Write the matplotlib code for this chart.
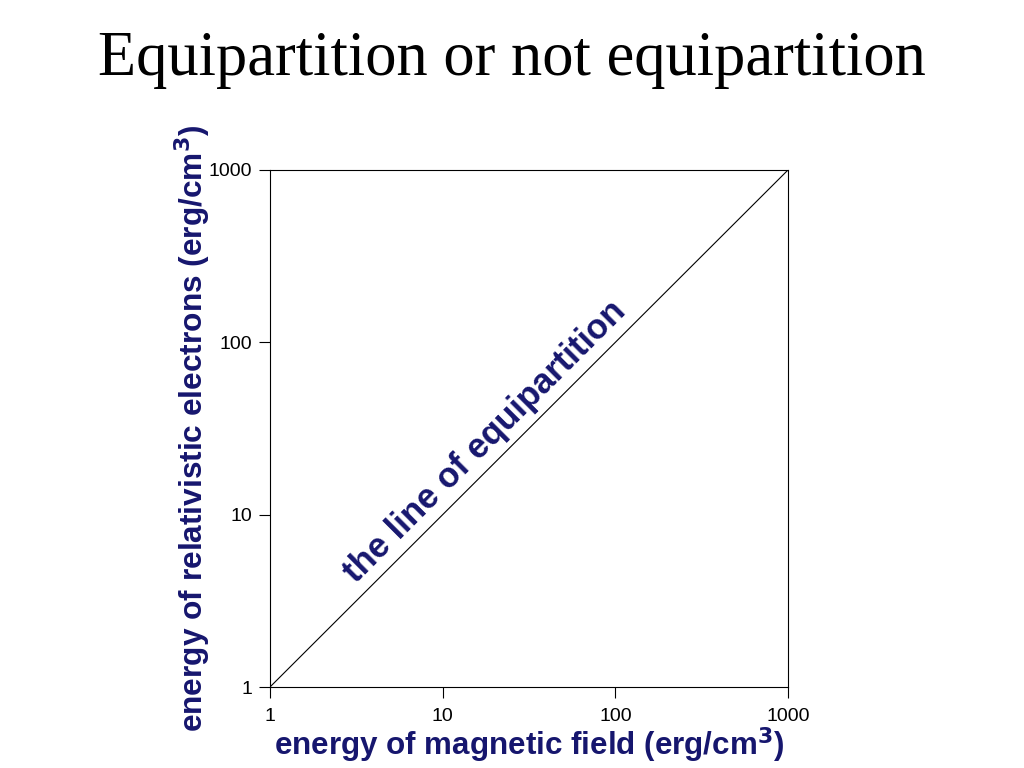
import matplotlib
matplotlib.use("Agg")
import matplotlib.pyplot as plt

# data: the equipartition line E_e = E_B
line_x = [1, 1000]
line_y = [1, 1000]
tick_vals = [1, 10, 100, 1000]
tick_labels = ["1", "10", "100", "1000"]

navy = "#16166e"
sans = "Liberation Sans"

fig = plt.figure(figsize=(10.24, 7.68), dpi=100)
ax = fig.add_axes([270/1024, 81/768, 518/1024, 517/768])

ax.plot(line_x, line_y, color="black", lw=0.8)
ax.set_xscale("log"); ax.set_yscale("log")
ax.set_xlim(1, 1000); ax.set_ylim(1, 1000)

ax.set_xticks(tick_vals); ax.set_xticklabels(tick_labels)
ax.set_yticks(tick_vals); ax.set_yticklabels(tick_labels)
ax.minorticks_off()
ax.tick_params(direction="out", length=8, width=0.8, pad=5, labelsize=14)
ax.tick_params(axis="x", pad=7)
for lab in ax.get_xticklabels() + ax.get_yticklabels():
    lab.set_family(sans)
for sp in ax.spines.values():
    sp.set_linewidth(0.8)

ax.set_xlabel("energy of magnetic field (erg/cm$^\\mathbf{3}$)", family=sans,
              weight="bold", fontsize=22.6, color=navy, va="center")
ax.xaxis.set_label_coords(0.5, -0.112)
ax.set_ylabel("energy of relativistic electrons (erg/cm$^\\mathbf{3}$)", family=sans,
              weight="bold", fontsize=22.8, color=navy, va="center")
ax.yaxis.set_label_coords(-0.151, 0.5)

ax.text(0.415, 0.474, "the line of equipartition", transform=ax.transAxes,
        rotation=45, rotation_mode="anchor", ha="center", va="center",
        family=sans, weight="bold", fontsize=25, color=navy)

fig.text(0.5, 1 - 75/768, "Equipartition or not equipartition", ha="center",
         va="baseline", family="Liberation Serif", fontsize=45)

fig.savefig("out.png", dpi=100)
